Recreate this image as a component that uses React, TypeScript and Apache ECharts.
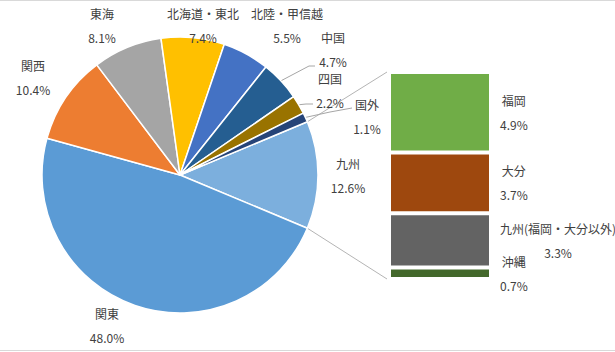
import React, { useEffect, useRef } from 'react';
import * as echarts from 'echarts';

// ---- data ----
const pieNames = ['九州', '関東', '関西', '東海', '北海道・東北', '北陸・甲信越', '中国', '四国', '国外'];
const pieValues = [12.6, 48.0, 10.4, 8.1, 7.4, 5.5, 4.7, 2.2, 1.1];
const barNames = ['福岡', '大分', '九州(福岡・大分以外)', '沖縄'];
const barValues = [4.9, 3.7, 3.3, 0.7];

// ---- styles / layout ----
const pieColors = ['#7CAFDD', '#5B9BD5', '#ED7D31', '#A5A5A5', '#FFC000', '#4472C4', '#255E91', '#997300', '#264478'];
const barColors = ['#70AD47', '#9E480E', '#636363', '#43682B'];
const W = 615;
const H = 352;
const CX = 180;
const CY = 175;
const R = 138;
const GRID = { left: 389, top: 72, width: 102, height: 207 };
const TEXT = '#404040';
const FONT = '"Noto Sans CJK JP", "Noto Sans", sans-serif';
// label block centres (x, y) for pie labels
const pieLabelPos: number[][] = [
  [348, 175], [107, 325], [33, 77], [102, 25], [203, 25], [287, 25], [333, 49], [330, 90], [367, 116],
];
// leader-line end points for the small slices
const leaders: Record<number, number[][]> = {
  6: [[309, 66], [315, 66]],
  7: [[306, 104], [313, 104]],
  8: [[330, 112], [352, 108]],
};

const richText = {
  n: { fontSize: 12, color: TEXT, lineHeight: 24, align: 'center', fontFamily: FONT },
  v: { fontSize: 12, color: TEXT, lineHeight: 24, align: 'center', fontFamily: FONT },
};

export default function App() {
  const ref = useRef<HTMLDivElement>(null);
  useEffect(() => {
    if (!ref.current) return;
    const chart = echarts.init(ref.current, null, { renderer: 'svg' });
    const total = pieValues.reduce((a, b) => a + b, 0);
    const half = (pieValues[0] / total) * 180;
    const startAngle = half;
    const midAngle = (i: number) => {
      let cum = 0;
      for (let k = 0; k < i; k++) cum += pieValues[k];
      cum += pieValues[i] / 2;
      return ((startAngle - (cum / total) * 360) * Math.PI) / 180;
    };
    const rad = (half * Math.PI) / 180;
    const upper = [CX + R * Math.cos(rad), CY - R * Math.sin(rad)];
    const lower = [CX + R * Math.cos(rad), CY + R * Math.sin(rad)];

    const option: any = {
      animation: false,
      textStyle: { fontFamily: FONT },
      grid: { left: GRID.left, top: GRID.top, width: GRID.width, height: GRID.height },
      xAxis: { type: 'category', data: ['九州'], show: false },
      yAxis: { type: 'value', min: 0, max: Math.round(barValues.reduce((a, b) => a + b, 0) * 10) / 10, inverse: true, show: false },
      graphic: [
        { type: 'line', shape: { x1: 0, y1: 0.5, x2: W, y2: 0.5 }, style: { stroke: '#D9D9D9', lineWidth: 1 } },
        { type: 'line', shape: { x1: 0, y1: H - 1.5, x2: W, y2: H - 1.5 }, style: { stroke: '#D9D9D9', lineWidth: 1 } },
        { type: 'line', shape: { x1: upper[0], y1: upper[1], x2: GRID.left - 2, y2: GRID.top }, style: { stroke: '#B4B4B4', lineWidth: 1 } },
        { type: 'line', shape: { x1: lower[0], y1: lower[1], x2: GRID.left - 2, y2: GRID.top + GRID.height }, style: { stroke: '#B4B4B4', lineWidth: 1 } },
      ],
      series: [
        {
          type: 'pie',
          center: [CX, CY],
          radius: [0, R],
          startAngle,
          clockwise: true,
          avoidLabelOverlap: false,
          data: pieNames.map((n, i) => ({
            name: n,
            value: pieValues[i],
            itemStyle: { color: pieColors[i] },
            labelLine: { show: !!leaders[i] },
          })),
          itemStyle: { borderColor: '#fff', borderWidth: 1.5 },
          label: {
            show: true,
            position: 'outside',
            width: 120,
            formatter: (p: any) => `{n|${p.name}}\n{v|${p.value.toFixed(1)}%}`,
            rich: richText,
          },
          labelLine: { show: false, lineStyle: { color: '#A6A6A6', width: 1 }, smooth: false },
          labelLayout: (params: any) => {
            const i = params.dataIndex;
            const pos = pieLabelPos[i];
            const out: any = { x: pos[0], y: pos[1], align: 'center', verticalAlign: 'middle' };
            if (leaders[i]) {
              const a = midAngle(i);
              const start = [CX + R * Math.cos(a), CY - R * Math.sin(a)];
              out.labelLinePoints = [start, ...leaders[i]];
            }
            return out;
          },
          emphasis: { disabled: true },
        },
        ...barNames.map((n, i) => ({
          type: 'bar',
          name: n,
          stack: 'kyushu',
          barWidth: '100%',
          data: [barValues[i]],
          itemStyle: { color: barColors[i], borderColor: '#fff', borderWidth: 2 },
          label: {
            show: true,
            position: 'right',
            distance: 9,
            formatter: (p: any) => `{n|${p.seriesName}}\n{v|${p.value.toFixed(1)}%}`,
            rich: richText,
          },
          emphasis: { disabled: true },
        })),
      ],
    };
    chart.setOption(option);
    return () => chart.dispose();
  }, []);
  return <div ref={ref} style={{ position: 'fixed', left: 0, top: 0, width: W, height: H, background: '#fff' }} />;
}
